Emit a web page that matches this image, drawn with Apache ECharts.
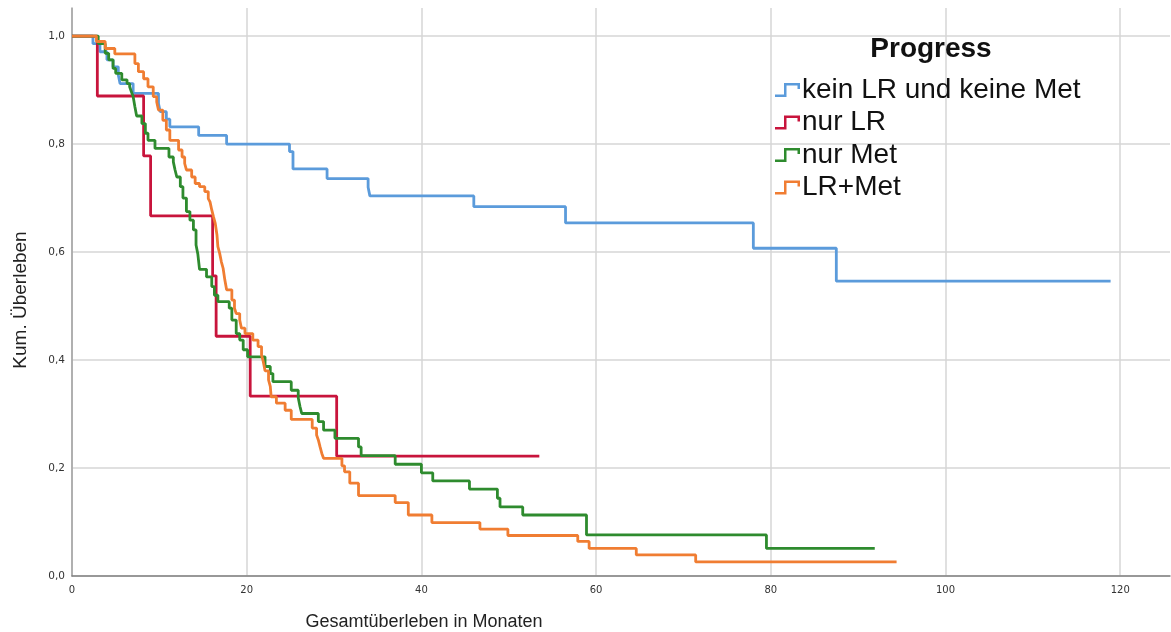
<!DOCTYPE html>
<html>
<head>
<meta charset="utf-8">
<script src="https://cdn.jsdelivr.net/npm/echarts@6/dist/echarts.min.js"></script>
<style>
  html, body { margin: 0; padding: 0; background: #fff; }
  #chart { width: 1171px; height: 632px; }
</style>
</head>
<body>
<div id="chart"></div>
<script>
// Kaplan-Meier steps, [Monate, Kum. Überleben]
const seriesNames = ["kein LR und keine Met", "nur LR", "nur Met", "LR+Met"];
const seriesColors = ["#5B9BDB", "#C8143C", "#2E8B2E", "#F07D32"];

const keinLR = [
  [0, 1], [2.4, 0.986], [3.2, 0.971], [4.0, 0.956], [4.7, 0.943], [5.3, 0.928],
  [5.5, 0.912], [7.0, 0.894], [9.9, 0.875], [10.1, 0.86], [10.8, 0.846],
  [11.2, 0.832], [14.5, 0.816], [17.7, 0.8], [24.9, 0.786], [25.3, 0.754],
  [29.2, 0.736], [33.9, 0.72], [34.1, 0.704], [46.0, 0.684], [56.5, 0.654],
  [78.0, 0.607], [87.5, 0.546], [118.9, 0.546]
];

const nurLR = [
  [0, 1], [2.9, 0.889], [8.2, 0.778], [9.0, 0.667], [16.1, 0.556],
  [16.5, 0.444], [20.4, 0.333], [30.3, 0.222], [53.5, 0.222]
];

const nurMet = [
  [0, 1], [3.0, 0.986], [3.8, 0.968], [4.2, 0.956], [4.7, 0.94], [5.0, 0.931],
  [5.7, 0.919], [6.3, 0.912], [6.6, 0.906], [6.8, 0.897], [7.0, 0.888],
  [7.2, 0.869], [7.4, 0.852], [8.0, 0.838], [8.4, 0.82], [8.7, 0.807],
  [9.5, 0.792], [11.1, 0.776], [11.6, 0.767], [11.8, 0.752], [12.0, 0.739],
  [12.4, 0.721], [12.7, 0.7], [13.1, 0.675], [13.5, 0.659], [13.9, 0.641],
  [14.2, 0.613], [14.4, 0.597], [14.6, 0.568], [15.4, 0.554], [16.0, 0.536],
  [16.3, 0.52], [16.7, 0.508], [18.0, 0.496], [18.3, 0.474], [18.8, 0.449],
  [19.2, 0.437], [19.6, 0.419], [20.1, 0.406], [22.1, 0.388], [22.7, 0.375],
  [23.0, 0.36], [25.1, 0.344], [25.9, 0.33], [26.1, 0.314], [26.3, 0.301],
  [28.2, 0.286], [28.8, 0.27], [30.1, 0.255], [32.8, 0.239], [33.1, 0.223],
  [37.0, 0.207], [40.0, 0.191], [41.3, 0.176], [45.5, 0.161], [48.7, 0.144],
  [49.0, 0.128], [51.6, 0.113], [58.9, 0.076], [79.5, 0.051], [91.9, 0.051]
];

const lrMet = [
  [0, 1], [2.8, 0.99], [3.8, 0.977], [4.9, 0.967], [7.2, 0.949], [7.6, 0.934],
  [8.2, 0.921], [8.7, 0.906], [9.3, 0.888], [9.7, 0.878], [9.9, 0.863],
  [10.4, 0.844], [10.8, 0.826], [11.2, 0.807], [12.2, 0.789], [12.6, 0.776],
  [12.9, 0.764], [13.1, 0.752], [13.7, 0.739], [14.1, 0.727], [14.6, 0.721],
  [15.2, 0.712], [15.6, 0.699], [15.8, 0.693], [16.0, 0.678], [16.2, 0.665],
  [16.4, 0.653], [16.6, 0.631], [16.7, 0.61], [16.9, 0.598], [17.1, 0.582],
  [17.3, 0.57], [17.5, 0.548], [17.7, 0.53], [18.3, 0.511], [18.6, 0.496],
  [18.8, 0.486], [19.2, 0.474], [19.4, 0.459], [19.8, 0.449], [20.7, 0.437],
  [21.3, 0.425], [21.7, 0.409], [21.9, 0.397], [22.1, 0.38], [22.5, 0.363],
  [22.7, 0.351], [22.8, 0.332], [23.4, 0.32], [24.4, 0.307], [25.1, 0.29],
  [27.5, 0.274], [28.0, 0.261], [28.2, 0.252], [28.4, 0.239], [28.6, 0.227],
  [28.8, 0.218], [30.9, 0.204], [31.2, 0.193], [31.8, 0.172], [32.8, 0.149],
  [37.0, 0.136], [38.5, 0.113], [41.2, 0.099], [46.7, 0.087], [49.9, 0.075],
  [57.9, 0.064], [59.2, 0.051], [64.6, 0.039], [71.4, 0.026], [94.4, 0.026]
];

const allData = [keinLR, nurLR, nurMet, lrMet];

// step icon like the SPSS legend
const stepIcon = "path://M0 11.5 L9 11.5 L9 0 L25 0 L25 6 L22.5 6 L22.5 2.5 L11.5 2.5 L11.5 14 L0 14 Z";

const gridColor = "#d6d6d6";

const chart = echarts.init(document.getElementById("chart"), null, { renderer: "canvas" });

const option = {
  animation: false,
  backgroundColor: "#fff",
  title: [
    {
      text: "Progress",
      left: 926,
      top: 30,
      textAlign: "center",
      textStyle: { fontFamily: "Liberation Sans, Arial, sans-serif", fontSize: 28, fontWeight: "bold", color: "#111" }
    },
    {
      text: "Gesamtüberleben in Monaten",
      left: 419,
      top: 608,
      textAlign: "center",
      textStyle: { fontFamily: "Liberation Sans, Arial, sans-serif", fontSize: 18, fontWeight: "normal", color: "#222" }
    }
  ],
  legend: {
    orient: "vertical",
    left: 770,
    top: 70,
    icon: stepIcon,
    itemWidth: 25,
    itemHeight: 14,
    itemGap: 2.5,
    itemStyle: { borderWidth: 0 },
    textStyle: { fontFamily: "Liberation Sans, Arial, sans-serif", fontSize: 28, color: "#111", lineHeight: 30, padding: [0, 0, 0, -3] },
    data: seriesNames
  },
  grid: { left: 72, right: 1, top: 8, bottom: 56 },
  xAxis: {
    type: "value",
    min: 0,
    max: 125.7,
    interval: 20,
    axisLine: { show: true, lineStyle: { color: "#808080", width: 1.5 } },
    axisTick: { show: false },
    axisLabel: {
      showMaxLabel: false,
      margin: 9,
      fontFamily: "DejaVu Sans, sans-serif",
      fontSize: 10,
      color: "#333"
    },
    splitLine: {
      show: true,
      lineStyle: { color: [gridColor, gridColor, gridColor, gridColor, gridColor, gridColor, gridColor, "rgba(0,0,0,0)"], width: 1.5 }
    }
  },
  yAxis: {
    type: "value",
    min: 0,
    max: 1.052,
    interval: 0.2,
    name: "Kum. Überleben",
    nameLocation: "middle",
    nameGap: 42,
    nameTextStyle: { fontFamily: "Liberation Sans, Arial, sans-serif", fontSize: 19, color: "#222", padding: [0, 16, 0, 0] },
    axisLine: { show: true, lineStyle: { color: "#a0a0a0", width: 1.5 } },
    axisTick: { show: false },
    axisLabel: {
      showMaxLabel: false,
      margin: 7,
      fontFamily: "DejaVu Sans, sans-serif",
      fontSize: 10.5,
      color: "#333",
      formatter: (v) => v.toFixed(1).replace(".", ",")
    },
    splitLine: {
      show: true,
      lineStyle: { color: [gridColor, gridColor, gridColor, gridColor, gridColor, gridColor, "rgba(0,0,0,0)"], width: 1.5 }
    }
  },
  series: seriesNames.map((name, i) => ({
    name: name,
    type: "line",
    step: "end",
    showSymbol: false,
    symbol: "none",
    color: seriesColors[i],
    lineStyle: { width: 2.8, color: seriesColors[i] },
    data: allData[i]
  }))
};

chart.setOption(option);
</script>
</body>
</html>
